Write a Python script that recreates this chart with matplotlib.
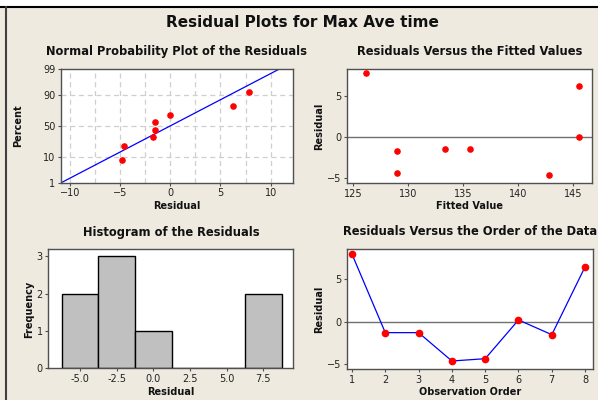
import matplotlib.pyplot as plt
from matplotlib.lines import Line2D
from matplotlib.patches import Rectangle
from statistics import NormalDist

# Data
prob_resid = [-4.77, -4.57, -1.77, -1.57, -1.57, 0.0, 6.27, 7.83]
prob_pct = [8.3, 20.2, 32.1, 44.0, 56.0, 67.9, 79.8, 91.7]
fit_mean = -0.03
fit_sd = 4.67
pct_ticks = [1, 10, 50, 90, 99]

fitted = [126.2, 129.0, 129.0, 133.4, 135.6, 142.8, 145.5, 145.5]
fitted_resid = [7.8, -1.74, -4.43, -1.5, -1.5, -4.67, 6.25, 0.04]

hist_centers = [-5.0, -2.5, 0.0, 2.5, 5.0, 7.5]
hist_counts = [2, 3, 1, 0, 0, 2]
hist_width = 2.5

order = [1, 2, 3, 4, 5, 6, 7, 8]
order_resid = [7.93, -1.29, -1.29, -4.62, -4.35, 0.2, -1.53, 6.45]

bg = '#EEEAE0'
spine_col = '#505050'
nd = NormalDist()

fig = plt.figure(figsize=(5.98, 4.0), dpi=100, facecolor=bg)

# window decorations: white strip on top, dark frame lines
fig.patches.append(Rectangle((0, 1 - 6 / 400), 1, 6 / 400, transform=fig.transFigure,
                             facecolor='white', edgecolor='none'))
fig.lines.append(Line2D([0, 1], [1 - 6.5 / 400] * 2, transform=fig.transFigure,
                        color='black', lw=1.5))
fig.lines.append(Line2D([6 / 598] * 2, [0, 1 - 6.5 / 400], transform=fig.transFigure,
                        color='#404040', lw=1.5))

fig.text(0.505, 0.944, 'Residual Plots for Max Ave time', ha='center', va='center',
         fontsize=11, fontweight='bold', color='#111111')


def style(ax):
    ax.set_facecolor('white')
    for s in ax.spines.values():
        s.set_color(spine_col)
        s.set_linewidth(1.0)
    ax.tick_params(labelsize=7, length=2.5, width=0.8, color=spine_col,
                   labelcolor='#222222', pad=1.5)


title_kw = dict(fontsize=8.3, fontweight='bold', color='#111111', pad=10)
lab_kw = dict(fontsize=7, fontweight='bold', color='#111111', labelpad=2)

# Normal probability plot
ax1 = fig.add_axes([0.102, 0.543, 0.3875, 0.284])
style(ax1)
zpts = [nd.inv_cdf(p / 100) for p in prob_pct]
zlo = nd.inv_cdf(0.01)
zhi = nd.inv_cdf(0.99)
for xv in [-10, -7.5, -5, -2.5, 0, 2.5, 5, 7.5, 10]:
    ax1.axvline(xv, color='#CFCFCF', lw=0.9, ls=(0, (4, 3)), zorder=0)
for pv in [10, 50, 90]:
    ax1.axhline(nd.inv_cdf(pv / 100), color='#CFCFCF', lw=0.9, ls=(0, (4, 3)), zorder=0)
zl = [zlo, zhi]
ax1.plot([fit_mean + fit_sd * z for z in zl], zl, color='blue', lw=0.9)
ax1.scatter(prob_resid, zpts, color='red', s=14, zorder=3)
ax1.set_xlim(-10.9, 12.2)
ax1.set_ylim(zlo, zhi)
ax1.set_xticks([-10, -5, 0, 5, 10])
ax1.set_yticks([nd.inv_cdf(p / 100) for p in pct_ticks])
ax1.set_yticklabels([str(p) for p in pct_ticks])
ax1.set_title('Normal Probability Plot of the Residuals', **title_kw)
ax1.set_xlabel('Residual', **lab_kw)
ax1.set_ylabel('Percent', fontsize=7, fontweight='bold', color='#111111', labelpad=14)

# Residuals vs fitted
ax2 = fig.add_axes([0.5808, 0.5425, 0.4087, 0.285])
style(ax2)
ax2.axhline(0, color='#707070', lw=1.0, zorder=1)
ax2.scatter(fitted, fitted_resid, color='red', s=14, zorder=3)
ax2.set_xlim(124.5, 146.7)
ax2.set_ylim(-5.6, 8.3)
ax2.set_xticks([125, 130, 135, 140, 145])
ax2.set_yticks([-5, 0, 5])
ax2.set_title('Residuals Versus the Fitted Values', **title_kw)
ax2.set_xlabel('Fitted Value', **lab_kw)
ax2.set_ylabel('Residual', **lab_kw)

# Histogram
ax3 = fig.add_axes([0.0808, 0.079, 0.4097, 0.2975])
style(ax3)
ax3.bar(hist_centers, hist_counts, width=hist_width, color='#C0C0C0',
        edgecolor='black', linewidth=1.0)
ax3.set_xlim(-7.16, 9.55)
ax3.set_ylim(0, 3.19)
ax3.set_xticks(hist_centers)
ax3.set_xticklabels(['%.1f' % c for c in hist_centers])
ax3.set_yticks([0, 1, 2, 3])
ax3.set_title('Histogram of the Residuals', **title_kw)
ax3.set_xlabel('Residual', **lab_kw)
ax3.set_ylabel('Frequency', **lab_kw)

# Residuals vs order
ax4 = fig.add_axes([0.5808, 0.0775, 0.411, 0.2993])
style(ax4)
ax4.axhline(0, color='#707070', lw=1.0, zorder=1)
ax4.plot(order, order_resid, color='blue', lw=0.9, marker='o', ms=4.5,
         mfc='red', mec='red', zorder=3)
ax4.set_xlim(0.86, 8.24)
ax4.set_ylim(-5.56, 8.5)
ax4.set_xticks(order)
ax4.set_yticks([-5, 0, 5])
ax4.set_title('Residuals Versus the Order of the Data', **title_kw)
ax4.set_xlabel('Observation Order', **lab_kw)
ax4.set_ylabel('Residual', **lab_kw)

fig.savefig('out.png', dpi=100, facecolor=bg)
